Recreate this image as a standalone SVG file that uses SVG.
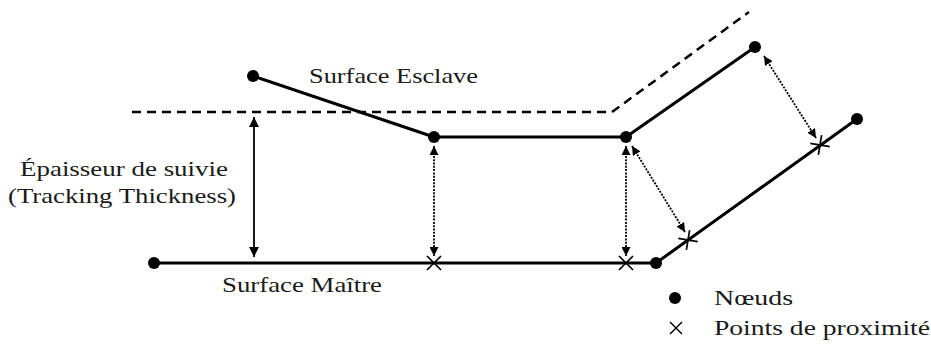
<svg xmlns="http://www.w3.org/2000/svg" width="931" height="347" viewBox="0 0 931 347">
<style>
.lbl{font-family:"Liberation Serif","DejaVu Serif",serif;font-size:22px;fill:#1a1a1a}
.surf{fill:none;stroke:#000;stroke-width:3;stroke-linejoin:round}
.dash{fill:none;stroke:#000;stroke-width:2.5;stroke-dasharray:9 6}
.dot{fill:#000}
.cross{stroke:#000;stroke-width:1.7;fill:none}
.prox{stroke:#000;stroke-width:1.8;stroke-dasharray:2 1.3;fill:none}
.thick{stroke:#000;stroke-width:1.8;fill:none}
</style>
<defs>
<marker id="ah" viewBox="0 0 10 10" refX="10" refY="5" markerWidth="10" markerHeight="10" markerUnits="userSpaceOnUse" orient="auto-start-reverse">
<path d="M0,0 L10,5 L0,10 z" fill="#000"/>
</marker>
<marker id="ah2" viewBox="0 0 10 10" refX="10" refY="5" markerWidth="9" markerHeight="9" markerUnits="userSpaceOnUse" orient="auto-start-reverse">
<path d="M0,0 L10,5 L0,10 z" fill="#000"/>
</marker>
<path id="x" d="M-7,-7 L7,7 M-7,7 L7,-7"/>
</defs>

<g id="tracking-limit">
<polyline class="dash" points="132,112 612,112 749,12"/>
</g>

<g id="slave-surface">
<polyline class="surf" points="253,76 434,137 626,137 755,47"/>
<circle class="dot" cx="253" cy="76" r="6"/>
<circle class="dot" cx="434" cy="137" r="6"/>
<circle class="dot" cx="626" cy="137" r="6"/>
<circle class="dot" cx="755" cy="47" r="6"/>
<text class="lbl" x="309" y="83" textLength="169" lengthAdjust="spacingAndGlyphs">Surface Esclave</text>
</g>

<g id="master-surface">
<polyline class="surf" points="154,263 656,263 857,119"/>
<circle class="dot" cx="154" cy="263" r="6"/>
<circle class="dot" cx="656" cy="263" r="6"/>
<circle class="dot" cx="857" cy="119" r="6"/>
<text class="lbl" x="222" y="292" textLength="160" lengthAdjust="spacingAndGlyphs">Surface Maître</text>
</g>

<g id="proximity-points">
<use href="#x" class="cross" transform="translate(434,263)"/>
<use href="#x" class="cross" transform="translate(626,263)"/>
<use href="#x" class="cross" transform="translate(688,240) rotate(-35.6)"/>
<use href="#x" class="cross" transform="translate(820,145) rotate(-35.6)"/>
</g>

<g id="connectors">
<line class="thick" x1="254" y1="117" x2="254" y2="257" marker-start="url(#ah)" marker-end="url(#ah)"/>
<line class="prox" x1="434" y1="146" x2="434" y2="256" marker-start="url(#ah2)" marker-end="url(#ah2)"/>
<line class="prox" x1="626" y1="146" x2="626" y2="256" marker-start="url(#ah2)" marker-end="url(#ah2)"/>
<line class="prox" x1="632" y1="146" x2="685" y2="232" marker-start="url(#ah2)" marker-end="url(#ah2)"/>
<line class="prox" x1="764" y1="56" x2="816" y2="138" marker-start="url(#ah2)" marker-end="url(#ah2)"/>
</g>

<g id="thickness-label">
<text class="lbl" x="20" y="176" textLength="208" lengthAdjust="spacingAndGlyphs">Épaisseur de suivie</text>
<text class="lbl" x="8" y="203" textLength="228" lengthAdjust="spacingAndGlyphs">(Tracking Thickness)</text>
</g>

<g id="legend">
<circle class="dot" cx="675" cy="298" r="6"/>
<text class="lbl" x="714" y="305" textLength="79" lengthAdjust="spacingAndGlyphs">Nœuds</text>
<use href="#x" class="cross" transform="translate(676,328) scale(0.85)"/>
<text class="lbl" x="714" y="335" textLength="216" lengthAdjust="spacingAndGlyphs">Points de proximité</text>
</g>
</svg>
